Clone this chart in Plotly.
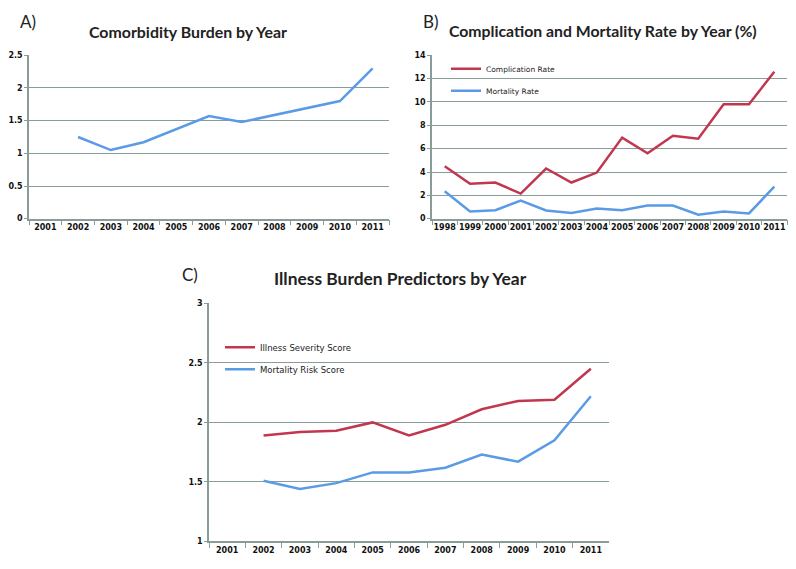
import plotly.graph_objects as go

# ---------------- data ----------------
years_a = ["2001", "2002", "2003", "2004", "2005", "2006", "2007", "2008", "2009", "2010", "2011"]
comorbidity = [None, 1.25, 1.05, 1.17, 1.37, 1.57, 1.48, 1.59, 1.70, 1.80, 2.30]

years_b = ["1998", "1999", "2000", "2001", "2002", "2003", "2004", "2005", "2006",
           "2007", "2008", "2009", "2010", "2011"]
complication_rate = [4.5, 3.0, 3.1, 2.15, 4.3, 3.1, 3.95, 6.95, 5.6, 7.1, 6.85, 9.8, 9.8, 12.6]
mortality_rate = [2.35, 0.62, 0.73, 1.55, 0.7, 0.48, 0.87, 0.73, 1.13, 1.13, 0.34, 0.62, 0.45, 2.74]

years_c = years_a
illness_severity = [None, 1.89, 1.92, 1.93, 2.0, 1.89, 1.98, 2.11, 2.18, 2.19, 2.45]
mortality_risk = [None, 1.51, 1.44, 1.49, 1.58, 1.58, 1.62, 1.73, 1.67, 1.85, 2.22]

RED = "#c0374f"
BLUE = "#5b9be6"
GRID = "#8a9c9a"
W, H = 796, 569
OX, OY = 8, 8  # page offset of the plot div (body margin)

def px(x0, x1):
    return [(x0 - OX) / W, (x1 - OX) / W]

def py(top, bottom):
    return [1 - (bottom - OY) / H, 1 - (top - OY) / H]

def pxy(x, y):
    return (x - OX) / W, 1 - (y - OY) / H

fig = go.Figure()

fig.add_trace(go.Scatter(x=years_a, y=comorbidity, mode="lines", name="Comorbidity Burden",
                         line=dict(color=BLUE, width=2.5), showlegend=False,
                         xaxis="x", yaxis="y"))
fig.add_trace(go.Scatter(x=years_b, y=complication_rate, mode="lines", name="Complication Rate",
                         line=dict(color=RED, width=2.5), legend="legend", legendgroup="b1",
                         xaxis="x2", yaxis="y2"))
fig.add_trace(go.Scatter(x=years_b, y=mortality_rate, mode="lines", name="Mortality Rate",
                         line=dict(color=BLUE, width=2.5), legend="legend", legendgroup="b2",
                         xaxis="x2", yaxis="y2"))
fig.add_trace(go.Scatter(x=years_c, y=illness_severity, mode="lines", name="Illness Severity Score",
                         line=dict(color=RED, width=2.5), legend="legend2", legendgroup="c1",
                         xaxis="x3", yaxis="y3"))
fig.add_trace(go.Scatter(x=years_c, y=mortality_risk, mode="lines", name="Mortality Risk Score",
                         line=dict(color=BLUE, width=2.5), legend="legend2", legendgroup="c2",
                         xaxis="x3", yaxis="y3"))

tickfont = dict(family="DejaVu Sans", size=8, color="#111111", weight="bold")

def xax(domain, anchor, n):
    return dict(domain=domain, anchor=anchor, type="category", tickson="boundaries",
                ticks="outside", ticklen=5, tickcolor=GRID, showline=True, linecolor=GRID,
                linewidth=1.5, showgrid=False, tickfont=tickfont, tickangle=0,
                ticklabeloverflow="allow", range=[-0.5, n - 0.5], fixedrange=True)

def yax(domain, anchor, rng, dtick):
    return dict(domain=domain, anchor=anchor, range=rng, dtick=dtick, showline=True,
                linecolor=GRID, linewidth=1.5, gridcolor=GRID, gridwidth=1.2,
                ticks="outside", ticklen=3, tickcolor=GRID, tickfont=tickfont,
                zeroline=False, fixedrange=True)

lb_x, lb_y = pxy(446, 51)
lc_x, lc_y = pxy(220, 334)

fig.update_layout(
    width=W, height=H, margin=dict(l=0, r=0, t=0, b=0),
    paper_bgcolor="white", plot_bgcolor="white",
    xaxis=xax(px(29, 389), "y", len(years_a)),
    yaxis=yax(py(52, 218), "x", [0, 2.5], 0.5),
    xaxis2=xax(px(432, 787), "y2", len(years_b)),
    yaxis2=yax(py(52, 218), "x2", [0, 14], 2),
    xaxis3=xax(px(209, 609), "y3", len(years_c)),
    yaxis3=yax(py(304, 546), "x3", [1, 3], 0.5),
    legend=dict(x=lb_x, y=lb_y, xanchor="left", yanchor="top",
                bgcolor="rgba(0,0,0,0)",
                font=dict(family="DejaVu Sans", size=7.5, color="#222222"),
                tracegroupgap=3, itemwidth=30),
    legend2=dict(x=lc_x, y=lc_y, xanchor="left", yanchor="top",
                 bgcolor="rgba(0,0,0,0)",
                 font=dict(family="DejaVu Sans", size=8.5, color="#222222"),
                 tracegroupgap=3, itemwidth=30),
    showlegend=True,
)

titlefont = "Lato"
specs = [
    ("A)", 28, 18, 17, False),
    ("Comorbidity Burden by Year", 188, 28, 15.9, True),
    ("B)", 431, 18, 17, False),
    ("Complication and Mortality Rate by Year (%)", 603, 27, 15.8, True),
    ("C)", 190, 275, 17, False),
    ("Illness Burden Predictors by Year", 400, 279, 17.4, True),
]
annots = []
for text, x, y, size, bold in specs:
    ax_, ay_ = pxy(x, y)
    annots.append(dict(text=f"<b>{text}</b>" if bold else text, x=ax_, y=ay_,
                       xref="paper", yref="paper", showarrow=False,
                       xanchor="center", yanchor="middle",
                       font=dict(family=titlefont, size=size, color="#222")))
fig.update_layout(annotations=annots)

fig.write_html("out.html")
